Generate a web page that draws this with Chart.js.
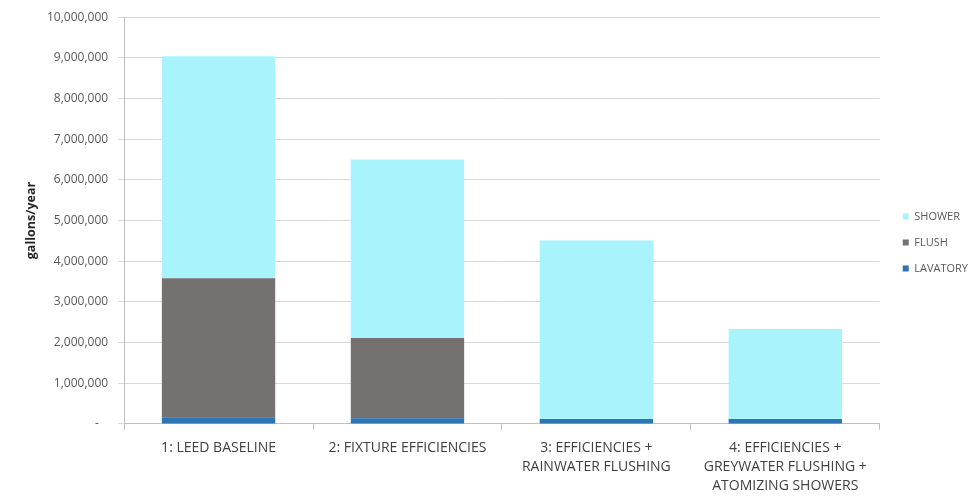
<!DOCTYPE html>
<html>
<head>
<meta charset="utf-8">
<script src="https://cdn.jsdelivr.net/npm/chart.js@4"></script>
<style>
  html, body { margin: 0; padding: 0; background: #fff; }
  #wrap { position: relative; width: 976px; height: 497px; }
</style>
</head>
<body>
<div id="wrap"><canvas id="chart"></canvas></div>
<script>
const scenarios = [
  '1: LEED BASELINE',
  '2: FIXTURE EFFICIENCIES',
  ['3: EFFICIENCIES +', 'RAINWATER FLUSHING'],
  ['4: EFFICIENCIES +', 'GREYWATER FLUSHING +', 'ATOMIZING SHOWERS'],
];
const lavatory = [160000, 140000, 120000, 120000];
const flush = [3420000, 1970000, 0, 0];
const shower = [5460000, 4390000, 4390000, 2210000];

const yMax = 10000000;
const yStep = 1000000;

const textColor = '#595959';
const fontFamily = "'Open Sans', 'Segoe UI', sans-serif";

// move the legend block a little off its default spot
const legendNudge = {
  id: 'legendNudge',
  afterLayout(chart) {
    const l = chart.legend;
    if (!l) return;
    const dx = 8, dy = -15;
    l.left += dx; l.right += dx;
    l.top += dy; l.bottom += dy;
  },
};

new Chart(document.getElementById('chart'), {
  type: 'bar',
  data: {
    labels: scenarios,
    datasets: [
      { label: 'LAVATORY', data: lavatory, backgroundColor: '#2E75B6' },
      { label: 'FLUSH', data: flush, backgroundColor: '#767171' },
      { label: 'SHOWER', data: shower, backgroundColor: '#A9F4FC' },
    ],
  },
  plugins: [legendNudge],
  options: {
    responsive: true,
    maintainAspectRatio: false,
    animation: false,
    layout: { padding: { top: 10, right: 6, left: 20, bottom: -8 } },
    datasets: { bar: { categoryPercentage: 1, barPercentage: 0.6 } },
    plugins: {
      tooltip: { enabled: false },
      legend: {
        position: 'right',
        align: 'center',
        reverse: true,
        labels: {
          color: textColor,
          font: { family: fontFamily, size: 11 },
          boxWidth: 6,
          boxHeight: 6,
          padding: 15,
        },
      },
    },
    scales: {
      x: {
        stacked: true,
        grid: { drawOnChartArea: false, color: '#bfbfbf', tickLength: 6, offset: true },
        border: { color: '#bfbfbf' },
        ticks: {
          color: '#404040',
          padding: 9,
          maxRotation: 0,
          font: { family: fontFamily, size: 14, lineHeight: 1.36 },
        },
      },
      y: {
        stacked: true,
        min: 0,
        max: yMax,
        grid: { color: '#d9d9d9', tickLength: 6 },
        border: { color: '#bfbfbf' },
        title: {
          display: true,
          text: 'gallons/year',
          color: '#262626',
          font: { family: fontFamily, size: 12.5, weight: 'bold' },
          padding: { top: 4, bottom: -2 },
        },
        ticks: {
          stepSize: yStep,
          color: textColor,
          padding: 10,
          font: { family: fontFamily, size: 12 },
          callback: v => v === 0 ? '-   ' : v.toLocaleString('en-US'),
        },
      },
    },
  },
});
</script>
</body>
</html>
